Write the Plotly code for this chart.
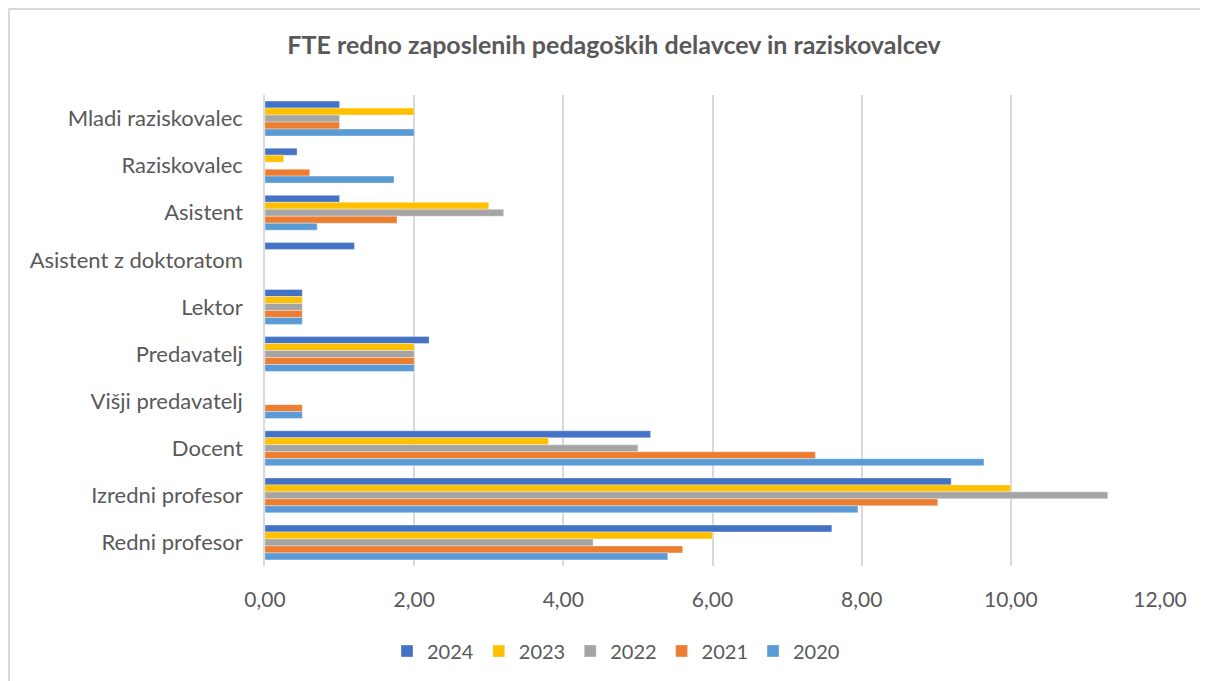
import plotly.graph_objects as go

categories = ["Mladi raziskovalec", "Raziskovalec", "Asistent", "Asistent z doktoratom",
              "Lektor", "Predavatelj", "Višji predavatelj", "Docent",
              "Izredni profesor", "Redni profesor"]

years = ["2024", "2023", "2022", "2021", "2020"]

v2024 = [1.0, 0.43, 1.0, 1.2, 0.5, 2.2, None, 5.17, 9.2, 7.6]
v2023 = [2.0, 0.25, 3.0, None, 0.5, 2.0, None, 3.8, 10.0, 6.0]
v2022 = [1.0, None, 3.2, None, 0.5, 2.0, None, 5.0, 11.3, 4.4]
v2021 = [1.0, 0.6, 1.77, None, 0.5, 2.0, 0.5, 7.38, 9.02, 5.6]
v2020 = [2.0, 1.73, 0.7, None, 0.5, 2.0, 0.5, 9.64, 7.95, 5.4]

series = [v2024, v2023, v2022, v2021, v2020]
colors = ["#4472C4", "#FFC000", "#A5A5A5", "#ED7D31", "#5B9BD5"]

FONT = "Lato"
TXT = "#595959"

fig = go.Figure()
for name, vals, col in zip(years, series, colors):
    fig.add_trace(go.Bar(
        y=categories, x=vals, name=name, orientation="h",
        marker=dict(color=col, line=dict(color="rgba(255,255,255,0.6)", width=0.6)),
    ))

# page has 8px body margin; figure coords = reference coords - 8
OFF = 8
W, H = 1208 - OFF, 681 - OFF
L, R, T, B = 265 - OFF, 1160 - OFF, 95 - OFF, 566 - OFF
pw, ph = R - L, B - T

def px(x):
    return (x - OFF - L) / pw

def py(y):
    return (B - (y - OFF)) / ph

fig.update_layout(
    width=W, height=H,
    margin=dict(l=L, r=W - R, t=T, b=H - B, autoexpand=False),
    paper_bgcolor="white", plot_bgcolor="white",
    barmode="group", bargap=0.26, bargroupgap=0,
    separators=",.",
    font=dict(family=FONT, color=TXT, size=20),
    title=dict(text="<b>FTE redno zaposlenih pedagoških delavcev in raziskovalcev</b>",
               x=(614 - OFF) / W, xref="container", xanchor="center",
               y=1 - (45 - OFF) / H, yref="container", yanchor="middle",
               font=dict(family=FONT, size=25, color=TXT)),
    xaxis=dict(range=[0, 12], dtick=2, tickformat=".2f", showgrid=True,
               gridcolor="#D9D9D9", gridwidth=1.5, zeroline=False,
               showline=False, ticks="", ticklabelstandoff=19,
               tickfont=dict(size=21, color=TXT)),
    yaxis=dict(autorange="reversed", showgrid=False, showline=True,
               linecolor="#D9D9D9", linewidth=1.5, ticks="",
               ticklabelstandoff=16, tickfont=dict(size=22, color=TXT)),
    legend=dict(orientation="h", x=px(616), xanchor="center", y=py(651),
                yanchor="middle", traceorder="normal",
                font=dict(size=20, color=TXT), itemwidth=30,
                bgcolor="rgba(0,0,0,0)"),
    shapes=[
        dict(type="line", xref="paper", yref="paper", x0=px(8), x1=px(1215),
             y0=py(9), y1=py(9), line=dict(color="#D9D9D9", width=2)),
        dict(type="line", xref="paper", yref="paper", x0=px(9), x1=px(9),
             y0=py(8), y1=py(690), line=dict(color="#D9D9D9", width=2)),
    ],
)

fig.write_html("out.html")
